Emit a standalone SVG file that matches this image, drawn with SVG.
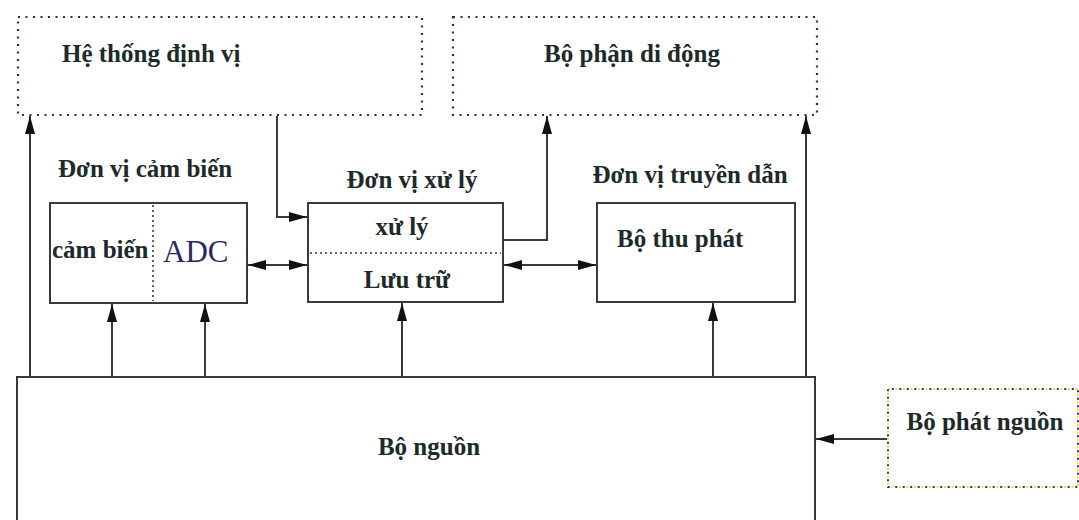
<svg xmlns="http://www.w3.org/2000/svg" width="1079" height="520" viewBox="0 0 1079 520">
<style>
text{font-family:"Liberation Serif","Times New Roman",serif;font-weight:bold;fill:#1c2a2a;font-size:25px}
.box{fill:#fff;stroke:#3a3a3a;stroke-width:2}
.dotbox{fill:#fff;stroke:#1f3550;stroke-width:2.2;stroke-dasharray:2 5.5}
.ybox{fill:#fff;stroke:#e8dc50;stroke-width:2;stroke-dasharray:2 5.5}
.ydot{fill:none;stroke:#3a3a3a;stroke-width:2;stroke-dasharray:2 5.5;stroke-dashoffset:3.7}
.div{fill:none;stroke:#333;stroke-width:1.5;stroke-dasharray:2 3}
.c{fill:none;stroke:#3a3a3a;stroke-width:2}
</style>
<defs>
<marker id="ah" markerUnits="userSpaceOnUse" markerWidth="19" markerHeight="12" refX="18" refY="5.5" orient="auto-start-reverse">
<path d="M0,0.5 L18,5.5 L0,10.5 Z" fill="#111"/>
</marker>
</defs>
<rect width="1079" height="520" fill="#fff"/>
<g id="he-thong-dinh-vi">
<rect class="dotbox" x="18" y="17" width="404" height="98"/>
<text x="62" y="62">Hệ thống định vị</text>
</g>
<g id="bo-phan-di-dong">
<rect class="dotbox" x="453" y="17" width="364" height="98"/>
<text x="632" y="62" text-anchor="middle">Bộ phận di động</text>
</g>
<g id="don-vi-cam-bien">
<text x="58" y="177">Đơn vị cảm biến</text>
<rect class="box" x="50" y="203" width="197" height="100"/>
<line class="div" x1="153" y1="205" x2="153" y2="301"/>
<text x="52" y="258">cảm biến</text>
<text x="163" y="262" style="font-weight:normal;font-size:31px;fill:#2e2660">ADC</text>
</g>
<g id="don-vi-xu-ly">
<text x="412" y="188" text-anchor="middle">Đơn vị xử lý</text>
<rect class="box" x="308" y="203" width="195" height="99"/>
<line class="div" x1="310" y1="253" x2="501" y2="253"/>
<text x="402" y="235" text-anchor="middle">xử lý</text>
<text x="407" y="288" text-anchor="middle">Lưu trữ</text>
</g>
<g id="don-vi-truyen-dan">
<text x="690" y="183" text-anchor="middle">Đơn vị truyền dẫn</text>
<rect class="box" x="597" y="203" width="198" height="99"/>
<text x="617" y="247">Bộ thu phát</text>
</g>
<g id="bo-nguon">
<rect class="box" x="17" y="377" width="798" height="160"/>
<text x="429" y="455" text-anchor="middle">Bộ nguồn</text>
</g>
<g id="bo-phat-nguon">
<rect class="ybox" x="888" y="389" width="190" height="98"/>
<rect class="ydot" x="888" y="389" width="190" height="98"/>
<text x="985" y="430" text-anchor="middle">Bộ phát nguồn</text>
</g>
<g id="connectors">
<line class="c" x1="30" y1="377" x2="30" y2="116" marker-end="url(#ah)"/>
<line class="c" x1="112" y1="377" x2="112" y2="304" marker-end="url(#ah)"/>
<line class="c" x1="205" y1="377" x2="205" y2="304" marker-end="url(#ah)"/>
<line class="c" x1="402" y1="377" x2="402" y2="303" marker-end="url(#ah)"/>
<line class="c" x1="713" y1="377" x2="713" y2="303" marker-end="url(#ah)"/>
<line class="c" x1="806" y1="377" x2="806" y2="116" marker-end="url(#ah)"/>
<path class="c" d="M277,116 V217 H307" marker-end="url(#ah)"/>
<path class="c" d="M503,240 H547 V116" marker-end="url(#ah)"/>
<line class="c" x1="248" y1="265" x2="307" y2="265" marker-start="url(#ah)" marker-end="url(#ah)"/>
<line class="c" x1="504" y1="265" x2="596" y2="265" marker-start="url(#ah)" marker-end="url(#ah)"/>
<line class="c" x1="887" y1="439" x2="816" y2="439" marker-end="url(#ah)"/>
</g>
</svg>
